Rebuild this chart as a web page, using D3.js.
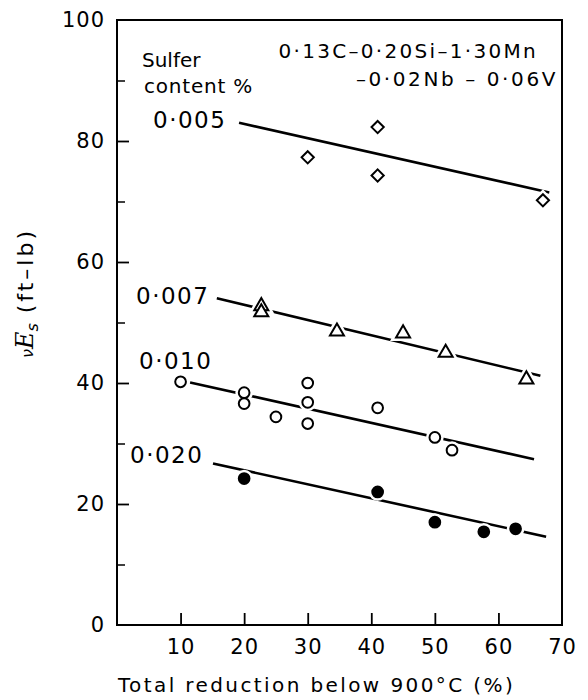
<!DOCTYPE html>
<html><head><meta charset="utf-8">
<script src="https://cdn.jsdelivr.net/npm/d3@7"></script>
<style>body{margin:0;background:#fff}svg{display:block}</style>
</head><body>
<svg id="c" width="588" height="700"></svg>
<script>
// Data
const xTicks = [10, 20, 30, 40, 50, 60, 70];
const yTicks = [0, 20, 40, 60, 80, 100];
const yMinor = [10, 30, 50, 70, 90];
const sulfur005 = [[30, 77.3], [41, 82.3], [41, 74.3], [67, 70.2]];
const sulfur007 = [[22.7, 52.7], [22.7, 51.7], [34.6, 48.5], [45, 48.2], [51.7, 45], [64.4, 40.6]];
const sulfur010 = [[10, 40.2], [20, 38.4], [20, 36.6], [25, 34.4], [30, 40], [30, 36.8], [30, 33.3], [41, 35.9], [50, 31], [52.7, 28.9]];
const sulfur020 = [[20, 24.2], [41, 22.0], [50, 17.0], [57.7, 15.4], [62.7, 15.9]];
const line005 = [[19.2, 83], [68, 71.5]];
const line007 = [[15.7, 54.0], [66.6, 41.2]];
const line010 = [[11.5, 40.1], [65.6, 27.4]];
const line020 = [[15.1, 26.7], [67.5, 14.6]];
const seriesLabels = ["0·005", "0·007", "0·010", "0·020"];

const svg = d3.select("#c");
const font = "'DejaVu Sans', sans-serif";
const L = 117, R = 562, T = 20, B = 625;
const x = d3.scaleLinear().domain([0, 70]).range([L, R]);
const y = d3.scaleLinear().domain([0, 100]).range([B, T]);

// frame
svg.append("rect").attr("x", L).attr("y", T).attr("width", R - L).attr("height", B - T)
  .attr("fill", "none").attr("stroke", "#000").attr("stroke-width", 2);

// x axis ticks (inward)
const xa = svg.append("g").attr("transform", `translate(0,${B})`)
  .call(d3.axisBottom(x).tickValues(xTicks).tickSizeInner(-12).tickSizeOuter(0).tickPadding(22));
xa.select(".domain").remove();
xa.selectAll("line").attr("stroke-width", 1.8).filter(d => d === 70).remove();
xa.selectAll("text").attr("font-family", font).attr("font-size", 21).attr("letter-spacing", 1).attr("dy", "0.32em").attr("y", 22);

// y axis
const ya = svg.append("g").attr("transform", `translate(${L},0)`)
  .call(d3.axisLeft(y).tickValues(yTicks).tickSizeInner(-12).tickSizeOuter(0).tickPadding(14));
ya.select(".domain").remove();
ya.selectAll("line").attr("stroke-width", 1.8).filter(d => d === 0 || d === 100).remove();
ya.selectAll("text").attr("font-family", font).attr("font-size", 21).attr("letter-spacing", 1).attr("x", -12);
const ym = svg.append("g").attr("transform", `translate(${L},0)`)
  .call(d3.axisLeft(y).tickValues(yMinor).tickSizeInner(-8).tickSizeOuter(0).tickFormat(""));
ym.select(".domain").remove();
ym.selectAll("line").attr("stroke-width", 1.5);

// axis titles
svg.append("text").attr("x", (118 + 515) / 2).attr("y", 692).attr("text-anchor", "middle")
  .attr("font-family", font).attr("font-size", 20).attr("letter-spacing", 2.4)
  .text("Total reduction below 900°C  (%)");
const yt = svg.append("text").attr("transform", "translate(33,293) rotate(-90)")
  .attr("text-anchor", "middle").attr("font-family", font).attr("font-size", 22);
yt.append("tspan").attr("font-size", 16).attr("font-style", "italic").text("ν");
yt.append("tspan").attr("font-style", "italic").attr("font-family", "'DejaVu Serif', serif").attr("font-size", 24).text("E");
yt.append("tspan").attr("font-size", 16).attr("font-style", "italic").attr("dy", 5).text("s");
yt.append("tspan").attr("dy", -5).attr("letter-spacing", 3).text("  (ft–lb)");

// annotations
svg.append("text").attr("x", 142).attr("y", 67).attr("font-family", font).attr("font-size", 20).text("Sulfer");
svg.append("text").attr("x", 144).attr("y", 93).attr("font-family", font).attr("font-size", 20).attr("letter-spacing", 0.8).text("content %");
svg.append("text").attr("x", 538).attr("y", 58).attr("text-anchor", "end").attr("font-family", font).attr("font-size", 20).attr("letter-spacing", 2.3).text("0·13C–0·20Si–1·30Mn");
svg.append("text").attr("x", 558).attr("y", 86).attr("text-anchor", "end").attr("font-family", font).attr("font-size", 20).attr("letter-spacing", 2.6).text("–0·02Nb – 0·06V");

const labelPos = [[153, 120], [136, 296], [139, 361], [130, 455]];
seriesLabels.forEach((s, i) => {
  svg.append("text").attr("x", labelPos[i][0]).attr("y", labelPos[i][1]).attr("dy", "0.36em")
    .attr("font-family", font).attr("font-size", 23).attr("letter-spacing", 1.5).text(s);
});

// lines
const lg = d3.line().x(d => x(d[0])).y(d => y(d[1]));
[line005, line007, line010, line020].forEach(l => {
  svg.append("path").attr("d", lg(l)).attr("fill", "none").attr("stroke", "#000").attr("stroke-width", 2.6);
});

// markers
function drawMarkers(data, type, filled) {
  const g = svg.append("g");
  const sym = d3.symbol().type(type).size(type === d3.symbolCircle ? 90 : (type === d3.symbolTriangle ? 85 : 95));
  g.selectAll(".halo").data(data).join("path")
    .attr("transform", d => `translate(${x(d[0])},${y(d[1])})`)
    .attr("d", sym).attr("fill", "#fff").attr("stroke", "#fff").attr("stroke-width", 7);
  g.selectAll(".m").data(data).join("path")
    .attr("transform", d => `translate(${x(d[0])},${y(d[1])})`)
    .attr("d", sym).attr("fill", filled ? "#000" : "#fff").attr("stroke", "#000").attr("stroke-width", 2);
}
drawMarkers(sulfur005, d3.symbolDiamond2, false);
drawMarkers(sulfur007, d3.symbolTriangle, false);
drawMarkers(sulfur010, d3.symbolCircle, false);
drawMarkers(sulfur020, d3.symbolCircle, true);
</script>
</body></html>
